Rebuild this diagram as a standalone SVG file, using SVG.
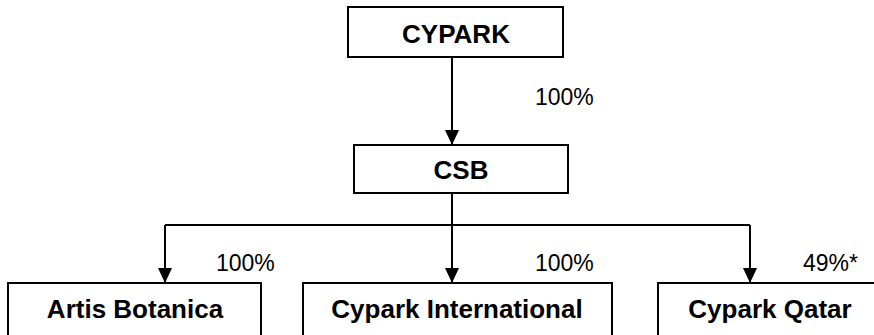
<svg xmlns="http://www.w3.org/2000/svg" width="874" height="335" viewBox="0 0 874 335">
<defs>
<style>
.box{fill:#fff;stroke:#000;stroke-width:2}
.t{font-family:"Liberation Sans",Arial,sans-serif;font-size:26px;font-weight:bold;text-anchor:middle;fill:#000}
.p{font-family:"Liberation Sans",Arial,sans-serif;font-size:23px;fill:#000}
.c{fill:none;stroke:#000;stroke-width:2}
</style>
<marker id="arr" viewBox="0 0 15 14" refX="15" refY="7" markerWidth="15" markerHeight="14" markerUnits="userSpaceOnUse" orient="auto">
<path d="M0,0 L15,7 L0,14 Z" fill="#000"/>
</marker>
</defs>
<rect width="874" height="335" fill="#fff"/>
<g id="connectors">
<path class="c" d="M452,57 V145" marker-end="url(#arr)"/>
<path class="c" d="M452,193 V283" marker-end="url(#arr)"/>
<path class="c" d="M165,225 H750"/>
<path class="c" d="M165,225 V283" marker-end="url(#arr)"/>
<path class="c" d="M750,225 V283" marker-end="url(#arr)"/>
<text class="p" x="535" y="105">100%</text>
<text class="p" x="216" y="271">100%</text>
<text class="p" x="535" y="271">100%</text>
<text class="p" x="803" y="271">49%*</text>
</g>
<g id="cypark">
<rect class="box" x="348" y="7" width="215" height="50"/>
<text class="t" x="456" y="43">CYPARK</text>
</g>
<g id="csb">
<rect class="box" x="354" y="145" width="214" height="48"/>
<text class="t" x="461" y="179">CSB</text>
</g>
<g id="artis">
<rect class="box" x="8" y="283" width="253" height="70"/>
<text class="t" x="135" y="318">Artis Botanica</text>
</g>
<g id="cyparkintl">
<rect class="box" x="303" y="283" width="309" height="70"/>
<text class="t" x="457" y="318">Cypark International</text>
</g>
<g id="cyparkqatar">
<rect class="box" x="658" y="283" width="226" height="70"/>
<text class="t" x="770" y="318">Cypark Qatar</text>
</g>
</svg>
